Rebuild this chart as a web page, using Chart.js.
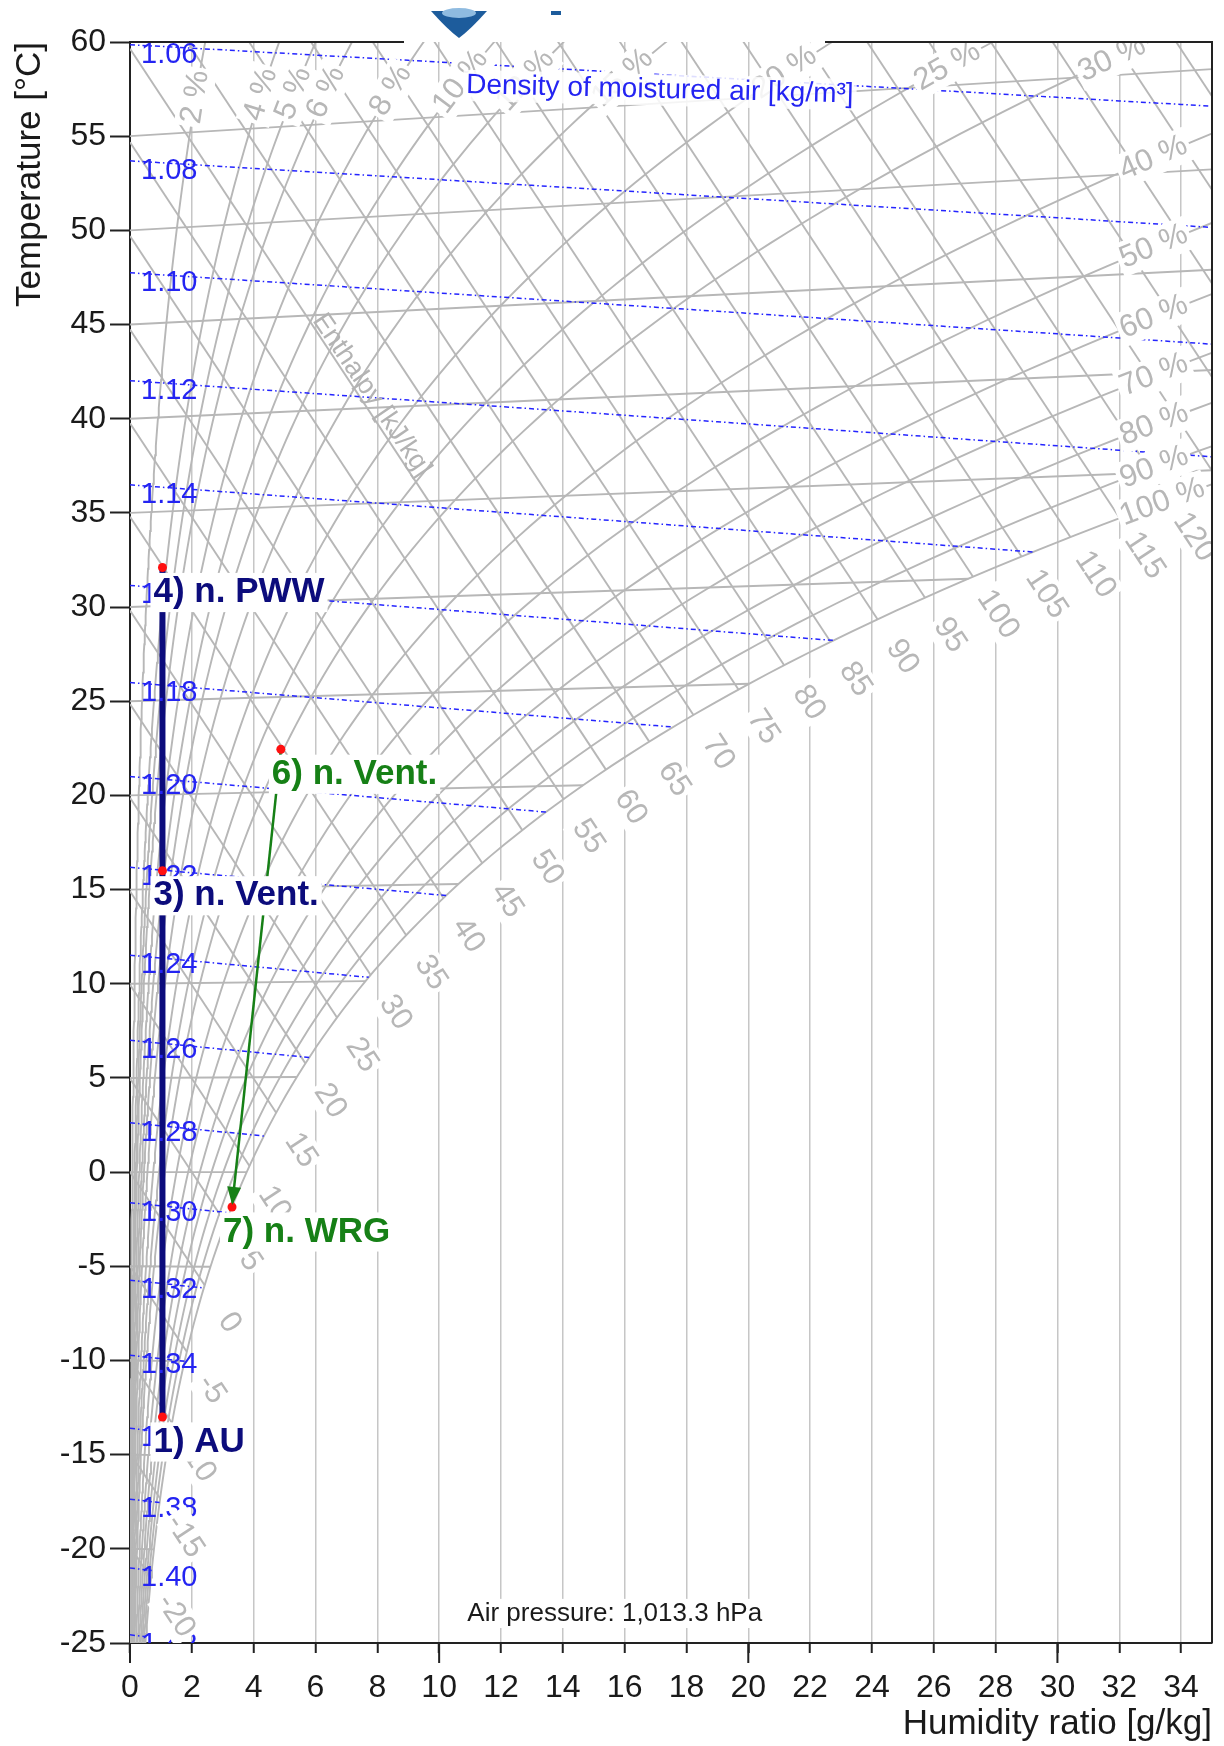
<!DOCTYPE html>
<html>
<head>
<meta charset="utf-8">
<title>h,x diagram</title>
<script src="https://cdn.jsdelivr.net/npm/chart.js@4.4.1/dist/chart.umd.min.js"></script>
<style>
  html, body { margin: 0; padding: 0; background: #fff; }
  #chart { display: block; }
</style>
</head>
<body>
<canvas id="chart" width="1224" height="1746"></canvas>
<script>
'use strict';

// axis ranges / tick steps
const xRange = [0, 35];      // humidity ratio [g/kg]
const yRange = [-25, 60];    // temperature [°C]
const xStep = 2;
const yStep = 5;
const airPressure = 1013.25; // hPa, "Air pressure: 1,013.3 hPa"

// families of the chart's background net (these are its labels)
const isotherms = [-25, -20, -15, -10, -5, 0, 5, 10, 15, 20, 25, 30, 35, 40, 45, 50, 55];
const rhLevels = [2, 4, 5, 6, 8, 10, 12, 15, 20, 25, 30, 40, 50, 60, 70, 80, 90, 100];
const enthalpies = [-25, -20, -15, -10, -5, 0, 5, 10, 15, 20, 25, 30, 35, 40, 45, 50, 55, 60, 65,
  70, 75, 80, 85, 90, 95, 100, 105, 110, 115, 120, 125, 130, 135, 140, 145];
const densities = [1.06, 1.08, 1.10, 1.12, 1.14, 1.16, 1.18, 1.20, 1.22, 1.24, 1.26, 1.28, 1.30,
  1.32, 1.34, 1.36, 1.38, 1.40, 1.42];

// air states
const stateNames = ['1) AU', '3) n. Vent.', '4) n. PWW', '6) n. Vent.', '7) n. WRG'];
const stateX = [1.05, 1.05, 1.05, 4.88, 3.3];
const stateY = [-13.0, 16.0, 32.1, 22.45, -1.85];
const heating = [0, 1, 2];   // navy line
const recovery = [3, 4];     // green arrow

// ---- psychrometrics (Mollier net) ----
function pSat(t) { return 6.112 * Math.exp(17.62 * t / (243.12 + t)); }
function xOf(t, phi) { const pv = phi * pSat(t); return 622 * pv / (airPressure - pv); }
function chartY(t, x) { return t * (1 + 0.00186 * x / 1.006); }
function hOf(t, x) { return 1.006 * t + x / 1000 * (2501 + 1.86 * t); }
function tOfRho(rho, x) {
  return airPressure * 100 * (1 + x / 1000) / (287.05 * rho * (1 + 1.6078 * x / 1000)) - 273.15;
}
function bisect(f, lo, hi) {
  let flo = f(lo);
  for (let i = 0; i < 60; i++) {
    const mid = (lo + hi) / 2, fm = f(mid);
    if ((fm > 0) === (flo > 0)) { lo = mid; flo = fm; } else { hi = mid; }
  }
  return (lo + hi) / 2;
}
function satOfH(h) {
  const t = bisect(tt => hOf(tt, xOf(tt, 1)) - h, -40, 80);
  const x = xOf(t, 1);
  return { t, x, y: chartY(t, x) };
}
function rhAnchorT(phi) {
  if (xOf(55, phi) <= 32) return 55;
  return bisect(t => xOf(t, phi) - 32, -30, 55);
}
function densityEnd(rho) {
  const g = x => xOf(tOfRho(rho, x), 1) - x;
  if (g(xRange[1]) > 0) return xRange[1];
  return bisect(g, 0, xRange[1]);
}

const GREY = '#b7b7b7';
function greyLine(points) {
  return { data: points, showLine: true, pointRadius: 0, borderColor: GREY, borderWidth: 1.9, order: 4 };
}

let datasets = [];

isotherms.forEach(t => {
  const xe = Math.min(xOf(t, 1), xRange[1]);
  datasets.push(greyLine([{ x: 0, y: t }, { x: xe, y: chartY(t, xe) }]));
});

enthalpies.forEach(h => {
  const s = satOfH(h);
  const xe = Math.min(s.x, xRange[1]);
  datasets.push(greyLine([{ x: 0, y: h / 1.006 }, { x: xe, y: (h - 2.501 * xe) / 1.006 }]));
});

rhLevels.forEach(phi => {
  const pts = [];
  for (let t = -26; t <= 62; t += 0.5) {
    const x = xOf(t, phi / 100);
    const y = chartY(t, x);
    pts.push({ x, y });
    if (x > 35.5 || y > 60.5) break;
  }
  datasets.push(greyLine(pts));
});

densities.forEach(rho => {
  const xe = densityEnd(rho);
  const pts = [];
  for (let x = 0; x < xe; x += 1) pts.push({ x, y: chartY(tOfRho(rho, x), x) });
  pts.push({ x: xe, y: chartY(tOfRho(rho, xe), xe) });
  datasets.push({ data: pts, showLine: true, pointRadius: 0, borderColor: '#2424ff',
    borderWidth: 1.5, borderDash: [5, 3, 1.5, 3], order: 3 });
});

datasets.push({ data: heating.map(i => ({ x: stateX[i], y: stateY[i] })), showLine: true,
  pointRadius: 0, borderColor: '#0c0c7c', borderWidth: 6, order: 2 });
datasets.push({ data: recovery.map(i => ({ x: stateX[i], y: stateY[i] })), showLine: true,
  pointRadius: 0, borderColor: '#168016', borderWidth: 2.5, order: 2 });
datasets.push({ data: stateX.map((x, i) => ({ x, y: stateY[i] })), showLine: false,
  pointRadius: 4.5, pointBackgroundColor: '#ff1010', pointBorderWidth: 0, order: 1 });

const FONT = '"Liberation Sans", Arial, Helvetica, sans-serif';

function tag(ctx, text, x, y, angle, align, size, weight, color, bg) {
  ctx.save();
  ctx.translate(x, y);
  ctx.rotate(angle);
  ctx.font = weight + ' ' + size + 'px ' + FONT;
  const w = ctx.measureText(text).width;
  if (bg) {
    const left = align === 'left' ? 0 : -w / 2;
    ctx.fillStyle = bg;
    ctx.fillRect(left - 3, -size * 0.56, w + 6, size * 1.12);
  }
  ctx.fillStyle = color;
  ctx.textAlign = align;
  ctx.textBaseline = 'middle';
  ctx.fillText(text, 0, 0);
  ctx.restore();
}

const netLabels = {
  id: 'netLabels',
  afterDatasetsDraw(chart) {
    const { ctx, chartArea: a } = chart;
    const sx = chart.scales.x, sy = chart.scales.y;
    const at = (x, y) => [sx.getPixelForValue(x), sy.getPixelForValue(y)];
    ctx.save();
    ctx.beginPath();
    ctx.rect(a.left, a.top, a.right - a.left, a.bottom - a.top);
    ctx.clip();

    // arrow head on the recovery line
    const [ax, ay] = at(stateX[recovery[0]], stateY[recovery[0]]);
    const [bx, by] = at(stateX[recovery[1]], stateY[recovery[1]]);
    const ang = Math.atan2(by - ay, bx - ax);
    ctx.save();
    ctx.translate(bx, by);
    ctx.rotate(ang);
    ctx.fillStyle = '#168016';
    ctx.beginPath();
    ctx.moveTo(-2, 0);
    ctx.lineTo(-20, -7);
    ctx.lineTo(-20, 7);
    ctx.closePath();
    ctx.fill();
    ctx.restore();

    // density labels at the left edge
    densities.forEach(rho => {
      const [px, py] = at(0, tOfRho(rho, 0));
      tag(ctx, rho.toFixed(2), px + 11, py + 10, 0, 'left', 29, 'normal', '#2424f2', null);
    });

    // relative humidity labels
    rhLevels.forEach(phi => {
      const f = phi / 100;
      const t = rhAnchorT(f);
      const x1 = xOf(t, f), x2 = xOf(t + 0.5, f);
      const [p1x, p1y] = at(x1, chartY(t, x1));
      const [p2x, p2y] = at(x2, chartY(t + 0.5, x2));
      const an = Math.atan2(p2y - p1y, p2x - p1x);
      const off = phi >= 40 ? 2 : 9;
      tag(ctx, phi + ' %', p1x + off * Math.cos(an), p1y + off * Math.sin(an), an, 'left', 31,
        'normal', GREY, '#fff');
    });

    // enthalpy labels beyond the saturation line
    enthalpies.forEach(h => {
      const s = satOfH(h);
      if (s.x > xRange[1] || s.y < yRange[0] + 0.5) return;
      const [p1x, p1y] = at(s.x, s.y);
      const [p2x, p2y] = at(s.x + 1, (h - 2.501 * (s.x + 1)) / 1.006);
      const an = Math.atan2(p2y - p1y, p2x - p1x);
      tag(ctx, String(h), p1x + 45 * Math.cos(an), p1y + 45 * Math.sin(an), an, 'center', 31,
        'normal', GREY, '#fff');
    });

    // titles inside the plot
    let [ex, ey] = at(7.82, 41.25);
    tag(ctx, 'Enthalpy [kJ/kg]', ex, ey, 0.975, 'center', 27, 'normal', '#b3b3b3', null);
    [ex, ey] = at(17.14, 57.45);
    tag(ctx, 'Density of moistured air [kg/m³]', ex, ey, 0.024, 'center', 28, 'normal', '#2424f2',
      'rgba(255,255,255,0.85)');
    [ex, ey] = at(15.68, -23.43);
    tag(ctx, 'Air pressure: 1,013.3 hPa', ex, ey, 0, 'center', 26, 'normal', '#1a1a1a', '#fff');

    // state labels
    stateNames.forEach((name, i) => {
      const [px, py] = at(stateX[i], stateY[i]);
      const col = heating.includes(i) ? '#0c0c7c' : '#168016';
      tag(ctx, name, px - 9, py + 25, 0, 'left', 35, 'bold', col, '#fff');
    });

    ctx.restore();
  },
  afterDraw(chart) {
    const { ctx, chartArea: a } = chart;
    const sx = chart.scales.x;
    ctx.save();
    ctx.strokeStyle = '#222';
    ctx.lineWidth = 2;
    ctx.beginPath();
    ctx.moveTo(a.left, a.top); ctx.lineTo(404, a.top);
    ctx.moveTo(825, a.top); ctx.lineTo(a.right, a.top); ctx.lineTo(a.right, a.bottom);
    [0, 10, 20, 30].forEach(v => {
      const px = sx.getPixelForValue(v);
      ctx.moveTo(px, a.bottom); ctx.lineTo(px, a.bottom + 20);
    });
    ctx.stroke();

    // logo peeking in at the top
    ctx.fillStyle = '#fff';
    ctx.fillRect(405, 0, 419, a.top - 1);
    ctx.fillStyle = '#1d5c9c';
    ctx.beginPath();
    ctx.moveTo(431, 11);
    ctx.lineTo(487, 11);
    ctx.quadraticCurveTo(470, 30, 459, 38);
    ctx.quadraticCurveTo(448, 30, 431, 11);
    ctx.fill();
    ctx.fillStyle = '#8fbbe0';
    ctx.beginPath();
    ctx.ellipse(459, 13, 17, 5, 0, 0, Math.PI * 2);
    ctx.fill();
    ctx.fillStyle = '#1d5c9c';
    ctx.fillRect(551, 11, 10, 4);
    ctx.restore();
  }
};

Chart.defaults.font.family = FONT;

new Chart(document.getElementById('chart'), {
  type: 'scatter',
  data: { datasets },
  plugins: [netLabels],
  options: {
    responsive: false,
    devicePixelRatio: 1,
    animation: false,
    layout: { padding: { top: 42, right: 12, left: 0, bottom: 0 } },
    plugins: { legend: { display: false }, tooltip: { enabled: false } },
    scales: {
      x: {
        type: 'linear',
        min: xRange[0],
        max: xRange[1],
        afterFit: s => { s.height = 103; },
        grid: { color: '#c6c6c6', lineWidth: 1.5, tickColor: '#222', tickWidth: 2, tickLength: 10 },
        border: { color: '#222', width: 2 },
        ticks: { stepSize: xStep, includeBounds: false, autoSkip: false, maxRotation: 0,
          color: '#1a1a1a', font: { size: 32 }, padding: 16 },
        title: { display: true, text: 'Humidity ratio [g/kg]', align: 'end', color: '#1a1a1a',
          font: { size: 35 }, padding: { top: 0, bottom: 1 } }
      },
      y: {
        type: 'linear',
        min: yRange[0],
        max: yRange[1],
        afterFit: s => { s.width = 130; },
        grid: { drawOnChartArea: false, tickColor: '#222', tickWidth: 2, tickLength: 20 },
        border: { color: '#222', width: 2 },
        ticks: { stepSize: yStep, autoSkip: false, color: '#1a1a1a', font: { size: 32 }, padding: 4 },
        title: { display: true, text: 'Temperature [°C]', align: 'end', color: '#1a1a1a',
          font: { size: 35 }, padding: { top: 9, bottom: 0 } }
      }
    }
  }
});
</script>
</body>
</html>
